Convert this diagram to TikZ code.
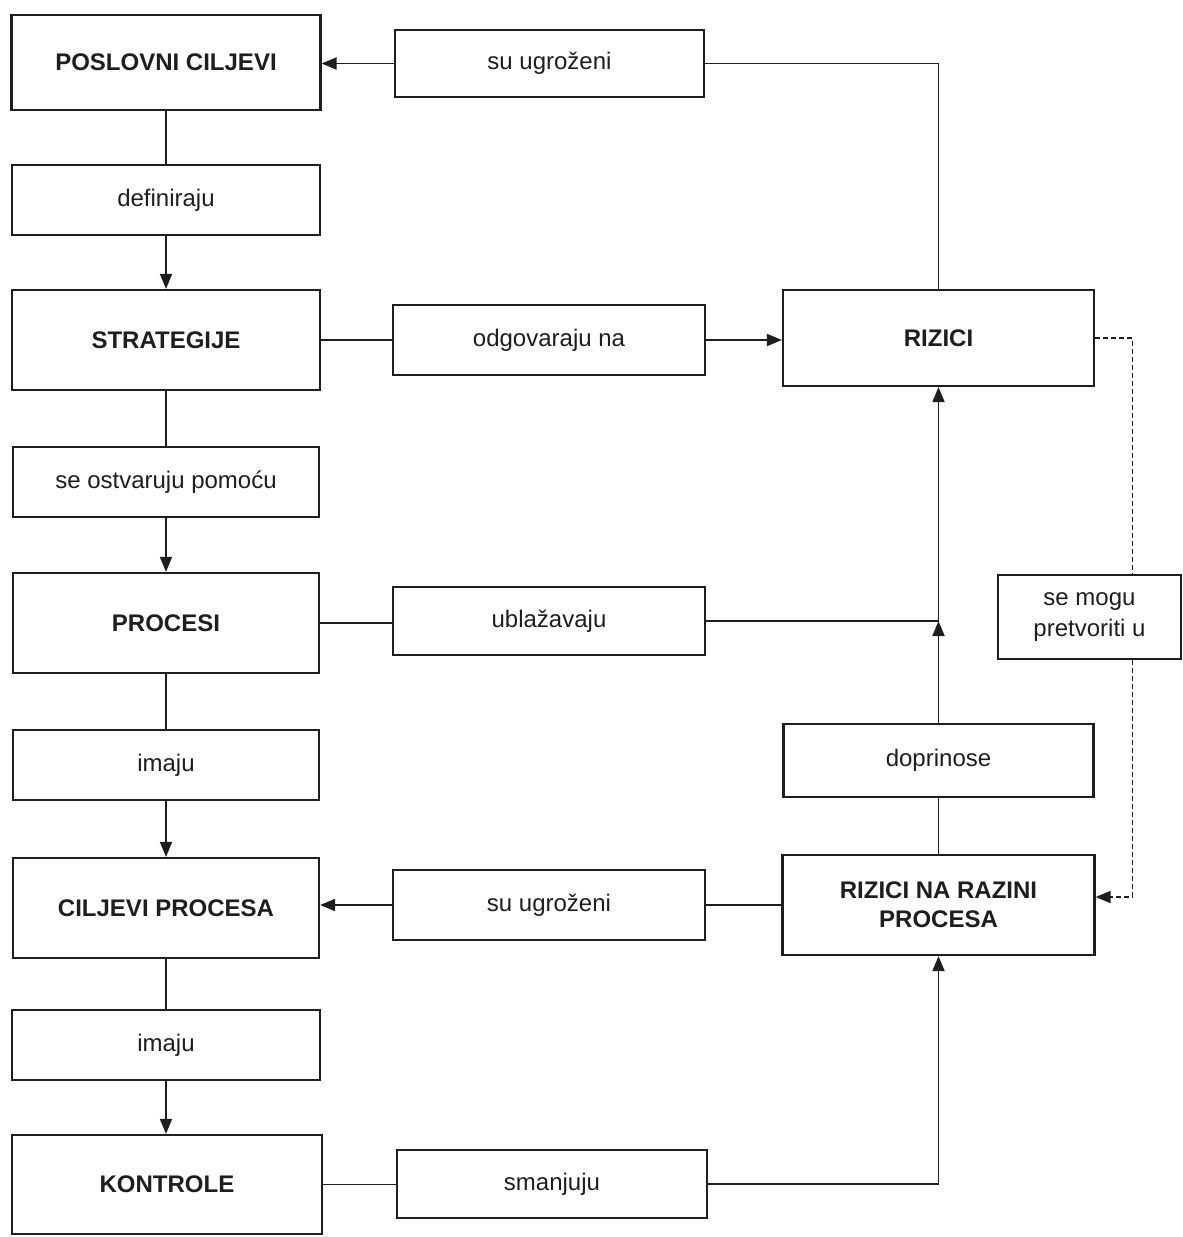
\documentclass[tikz,border=0pt]{standalone}
\usepackage{fontspec}
\setmainfont{Liberation Sans}
\usetikzlibrary{arrows.meta,calc}
\definecolor{ink}{HTML}{1E1E1E}
\begin{document}
\begin{tikzpicture}[x=1pt,y=-1pt,
  box/.style={draw=ink,line width=2.2pt,inner sep=0pt,align=center,text=ink},
  mainbox/.style={box,font=\fontsize{24}{29}\selectfont\bfseries},
  relbox/.style={box,font=\fontsize{24}{31}\selectfont},
  conn/.style={draw=ink,line width=1.8pt},
  arr/.style={conn,-{Triangle[length=15pt,width=12pt]}},
  dsh/.style={conn,dash pattern=on 5pt off 3pt}]
\fill[white] (0,0) rectangle (1183,1237);
\useasboundingbox (0,0) rectangle (1183,1237);
% left column
\node[mainbox,minimum width=309,minimum height=95] (pc) at (166,62.5) {POSLOVNI CILJEVI};
\node[relbox,minimum width=308,minimum height=70] (def) at (166,200) {definiraju};
\node[mainbox,minimum width=308,minimum height=100] (str) at (166,340) {STRATEGIJE};
\node[relbox,minimum width=306,minimum height=70] (sop) at (166,482) {se ostvaruju pomoću};
\node[mainbox,minimum width=306,minimum height=100] (pro) at (166,623) {PROCESI};
\node[relbox,minimum width=306,minimum height=70] (im1) at (166,765) {imaju};
\node[mainbox,minimum width=306,minimum height=100] (cp) at (166,908) {CILJEVI PROCESA};
\node[relbox,minimum width=308,minimum height=70] (im2) at (166,1045) {imaju};
\node[mainbox,minimum width=310,minimum height=99] (ko) at (167,1184.5) {KONTROLE};
% middle column
\node[relbox,minimum width=309,minimum height=67] (sug1) at (549.5,63.5) {su ugroženi};
\node[relbox,minimum width=312,minimum height=70] (odg) at (549,340) {odgovaraju na};
\node[relbox,minimum width=312,minimum height=68] (ubl) at (549,621) {ublažavaju};
\node[relbox,minimum width=312,minimum height=70] (sug2) at (549,905) {su ugroženi};
\node[relbox,minimum width=310,minimum height=68] (sma) at (552,1184) {smanjuju};
% right column
\node[mainbox,minimum width=311,minimum height=96] (riz) at (938.5,338) {RIZICI};
\node[relbox,minimum width=310,minimum height=73] (dop) at (938.5,760.5) {doprinose};
\node[mainbox,minimum width=312,minimum height=100] (rnp) at (938.5,905) {RIZICI NA RAZINI\\PROCESA};
\node[relbox,minimum width=183,minimum height=84] (smp) at (1089.5,617) {se mogu\\pretvoriti u};
% connectors
\draw[conn] (riz.north) |- (sug1.east);
\draw[arr] (sug1.west) -- (sug1.west -| pc.east);
\draw[conn] (pc.south) -- (def.north);
\draw[arr] (def.south) -- (str.north);
\draw[conn] (str.east) -- (odg.west);
\draw[arr] (odg.east) -- (odg.east -| riz.west);
\draw[conn] (str.south) -- (sop.north);
\draw[arr] (sop.south) -- (pro.north);
\draw[conn] (pro.east) -- (pro.east -| ubl.west);
\coordinate (j) at (ubl.east -| riz.south);
\draw[conn] (ubl.east) -- (j);
\draw[arr] ([yshift=-17pt]j) -- (j);
\draw[conn] (rnp.north) -- (dop.south);
\draw[arr] (dop.north) -- (riz.south);
\coordinate (st) at ($(smp.north)+(43,0)$);
\coordinate (sb) at ($(smp.south)+(43,0)$);
\draw[dsh] (riz.east) -| (st);
\draw[dsh,-{Triangle[length=15pt,width=12pt]}] (sb) |- ([yshift=8pt]rnp.east);
\draw[conn] (rnp.west) -- (sug2.east);
\draw[arr] (sug2.west) -- (sug2.west -| cp.east);
\draw[conn] (pro.south) -- (im1.north);
\draw[arr] (im1.south) -- (cp.north);
\draw[conn] (cp.south) -- (im2.north);
\draw[arr] (im2.south) -- (im2.south |- ko.north);
\draw[conn] (ko.east) -- (ko.east -| sma.west);
\draw[arr] (sma.east) -| (rnp.south);
\end{tikzpicture}
\end{document}
